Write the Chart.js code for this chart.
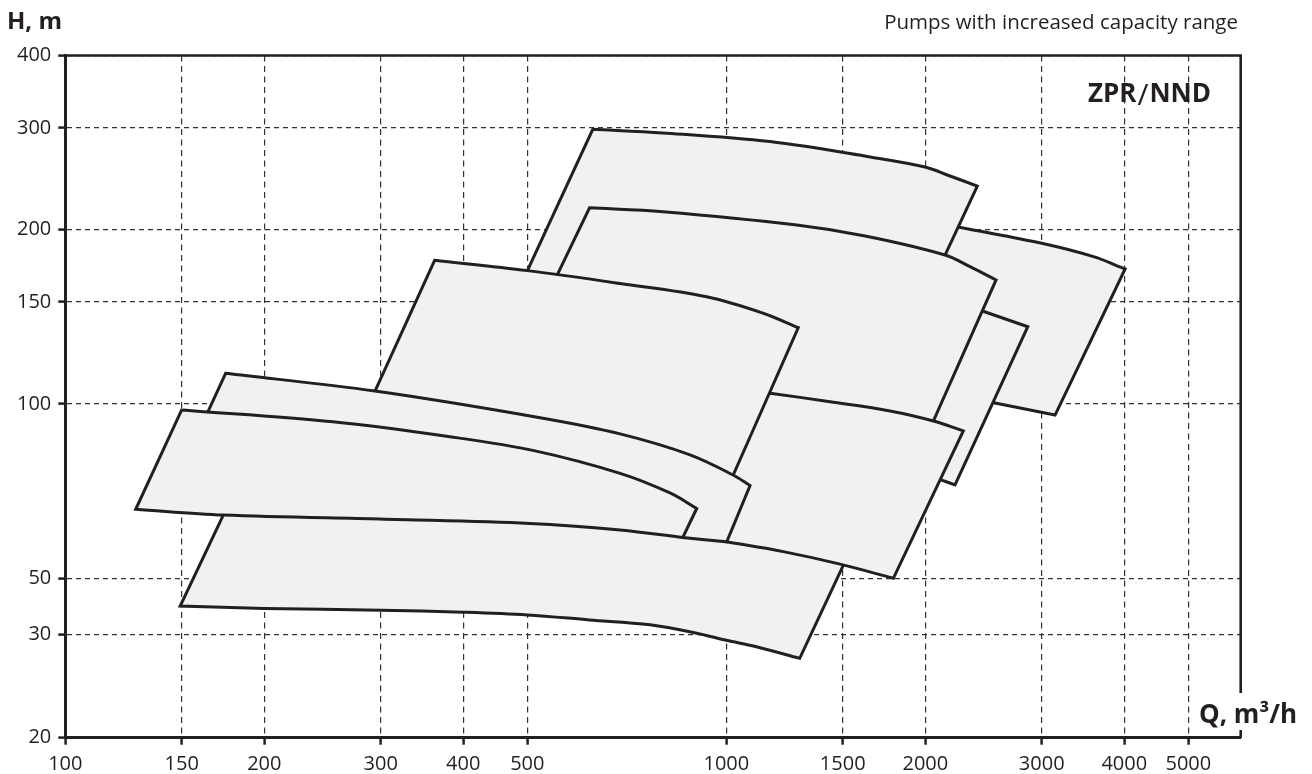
<!DOCTYPE html>
<html>
<head>
<meta charset="utf-8">
<title>ZPR/NND</title>
<script src="https://cdn.jsdelivr.net/npm/chart.js@4.4.1/dist/chart.umd.min.js"></script>
<style>
  html, body { margin: 0; padding: 0; background: #ffffff; }
  #box { position: relative; width: 1312px; height: 774px; }
</style>
</head>
<body>
<div id="box"><canvas id="chart" width="1312" height="774"></canvas></div>
<script>
// Axis ticks: flow Q (m³/h) and head H (m)
const flowTicks = [100, 150, 200, 300, 400, 500, 1000, 1500, 2000, 3000, 4000, 5000];
const headTicks = [20, 30, 50, 100, 150, 200, 300, 400];

// Outlines of the operating fields, flow/head pairs (each closes on its first point)
const field1Q = [1991, 477, 628, 802, 1164, 1650, 1998, 2180, 2397, 1991];
const field1H = [151.2, 151.2, 298.3, 294.0, 284.0, 267.2, 256.7, 247.7, 238.0, 151.2];

const field2Q = [1105, 1124, 532, 621, 802, 1278, 1622, 2142, 2337, 2559, 1998, 1105];
const field2H = [97.7, 129.0, 151.2, 218.3, 214.9, 203.8, 195.1, 180.9, 172.7, 163.8, 86.7, 97.7];

const field3Q = [281, 362, 500, 691, 934, 1137, 1285, 986, 281];
const field3H = [93.9, 177.1, 170.0, 161.5, 153.2, 143.5, 135.5, 68.3, 93.9];

const field4Q = [157.1, 174.8, 294.1, 522.6, 690.7, 881.2, 1023.6, 1086.1, 1001.4, 859.1, 793.8, 157.1];
const field4H = [86.7, 113.0, 105.3, 94.7, 88.8, 81.7, 75.4, 72.3, 57.8, 58.8, 63.0, 86.7];

const field5Q = [299.3, 173.4, 127.8, 150.0, 254.1, 381.9, 513.6, 690.7, 821.9, 902.0, 859.1, 690.7, 504.7, 299.3];
const field5H = [63.3, 64.3, 65.8, 97.7, 93.2, 87.8, 83.0, 75.9, 70.2, 66.0, 58.8, 60.6, 62.2, 63.3];

const field6Q = [644.1, 180.7, 149.2, 200.0, 300.2, 399.6, 500.2, 620.4, 766.6, 912.4, 1000, 1106.4, 1291.3, 1495.5, 1541.0, 1124.4, 961.4, 644.1];
const field6H = [65.6, 71.0, 38.8, 38.0, 37.4, 36.7, 35.8, 34.2, 32.7, 30.1, 29.3, 28.6, 27.3, 52.0, 56.0, 58.7, 62.5, 65.6];

const field7Q = [961.4, 1086.1, 1164.3, 1435.3, 1768.9, 2056.6, 2283.1, 1789.4, 1486.2, 1219.6, 1001.4, 951.4, 961.4];
const field7H = [71.0, 105.3, 104.4, 100.9, 97.3, 93.5, 89.9, 50.0, 52.9, 55.6, 57.8, 61.1, 71.0];

const field8Q = [2105, 2069, 2252, 3000, 3592, 4011, 3143, 2550, 2378, 2105];
const field8H = [151.2, 206.3, 202.0, 189.5, 179.7, 171.1, 95.7, 100.4, 103.7, 151.2];

const field9Q = [2033, 2337, 2434, 2858, 2218, 2118, 1998, 2033];
const field9H = [105.7, 147.7, 144.9, 136.0, 72.5, 73.9, 76.9, 105.7];

// Which points of each outline lie on a curved characteristic (the rest are corners),
// and the stacking of the fields (0 is drawn on top)
const fields = [
  { q: field1Q, h: field1H, curve: [3, 4, 5, 6, 7], order: 7 },
  { q: field2Q, h: field2H, curve: [4, 5, 6, 7, 8], order: 5 },
  { q: field3Q, h: field3H, curve: [2, 3, 4, 5], order: 2 },
  { q: field4Q, h: field4H, curve: [2, 3, 4, 5, 6], order: 1 },
  { q: field5Q, h: field5H, curve: [0, 1, 4, 5, 6, 7, 8, 11, 12, 13], order: 0 },
  { q: field6Q, h: field6H, curve: [3, 4, 5, 6, 7, 8, 9, 10, 11], order: 4 },
  { q: field7Q, h: field7H, curve: [2, 3, 4, 5, 8, 9], order: 3 },
  { q: field8Q, h: field8H, curve: [2, 3, 4], order: 8 },
  { q: field9Q, h: field9H, curve: [], order: 6 }
];

// Corners are entered twice so the spline keeps them sharp
function outline(f) {
  const pts = [];
  f.q.forEach((q, i) => {
    pts.push({ x: q, y: f.h[i] });
    if (!f.curve.includes(i)) pts.push({ x: q, y: f.h[i] });
  });
  return pts;
}

// Head axis: logarithmic above 50 m, with shortened steps 20-30-50 m below
const headBreaks = [20, 30, 50, 400];
const headShare = [0, 0.15157, 0.23366, 1];

class SegmentedLogScale extends Chart.Scale {
  determineDataLimits() {
    this.min = headBreaks[0];
    this.max = headBreaks[headBreaks.length - 1];
  }
  buildTicks() {
    return headTicks.map(v => ({ value: v }));
  }
  getLabelForValue(v) {
    return String(v);
  }
  toDecimal(v) {
    let i = 0;
    while (i < headBreaks.length - 2 && v > headBreaks[i + 1]) i++;
    const t = Math.log(v / headBreaks[i]) / Math.log(headBreaks[i + 1] / headBreaks[i]);
    return headShare[i] + t * (headShare[i + 1] - headShare[i]);
  }
  getPixelForValue(v) {
    return this.getPixelForDecimal(this.toDecimal(v));
  }
  getValueForPixel(p) {
    const d = this.getDecimalForPixel(p);
    let i = 0;
    while (i < headShare.length - 2 && d > headShare[i + 1]) i++;
    const t = (d - headShare[i]) / (headShare[i + 1] - headShare[i]);
    return headBreaks[i] * Math.pow(headBreaks[i + 1] / headBreaks[i], t);
  }
}
SegmentedLogScale.id = 'segmentedLog';
SegmentedLogScale.defaults = {};
Chart.register(SegmentedLogScale);

const ink = '#231f20';
const fieldFill = '#f1f1f1';
const family = '"Open Sans", "Noto Sans", "DejaVu Sans", sans-serif';

// Frame, headings and axis names
const captions = {
  id: 'captions',
  afterDraw(chart) {
    const { ctx, chartArea: a } = chart;
    ctx.save();
    ctx.strokeStyle = ink;
    ctx.lineWidth = 2.6;
    ctx.beginPath();
    ctx.moveTo(a.left - 1.5, a.top);
    ctx.lineTo(a.right, a.top);
    ctx.lineTo(a.right, a.bottom);
    ctx.stroke();

    ctx.fillStyle = ink;
    ctx.textBaseline = 'alphabetic';

    ctx.font = 'bold 24px ' + family;
    ctx.textAlign = 'left';
    ctx.fillText('H, m', 7, 29);

    ctx.font = '20.5px ' + family;
    ctx.textAlign = 'right';
    ctx.fillText('Pumps with increased capacity range', 1238, 29);

    // series name with a thin slash between the two type codes
    ctx.font = 'bold 26px ' + family;
    ctx.textAlign = 'right';
    ctx.fillText('NND', 1211, 102);
    let x = 1211 - ctx.measureText('NND').width - 1;
    ctx.font = '30px ' + family;
    ctx.fillText('/', x, 105);
    x -= ctx.measureText('/').width + 1;
    ctx.font = 'bold 26px ' + family;
    ctx.fillText('ZPR', x, 102);

    ctx.fillStyle = '#ffffff';
    ctx.fillRect(1195, 693, 115, 37);
    ctx.fillStyle = ink;
    ctx.font = 'bold 26px ' + family;
    ctx.textAlign = 'left';
    ctx.fillText('Q, m\u00b3/h', 1199, 723);
    ctx.restore();
  }
};

new Chart(document.getElementById('chart'), {
  type: 'scatter',
  data: {
    datasets: fields.map(f => ({
      data: outline(f),
      order: f.order,
      showLine: true,
      fill: 'shape',
      backgroundColor: fieldFill,
      borderColor: ink,
      borderWidth: 3,
      borderJoinStyle: 'miter',
      tension: 0.35,
      pointRadius: 0,
      pointHoverRadius: 0,
      pointHitRadius: 0
    }))
  },
  options: {
    responsive: false,
    devicePixelRatio: 1,
    animation: false,
    events: [],
    layout: { padding: { left: 0, top: 55.5, right: 71.3, bottom: 0 } },
    plugins: {
      legend: { display: false },
      tooltip: { enabled: false }
    },
    scales: {
      x: {
        type: 'logarithmic',
        position: 'bottom',
        min: 100,
        max: 6000,
        bounds: 'data',
        afterBuildTicks: s => { s.ticks = flowTicks.map(v => ({ value: v })); },
        afterFit: s => { s.height = 36.3; },
        ticks: {
          autoSkip: false,
          maxRotation: 0,
          minRotation: 0,
          padding: 8,
          color: ink,
          font: { family: family, size: 20 },
          callback: v => String(v)
        },
        grid: {
          color: '#333333',
          lineWidth: 1.2,
          drawTicks: true,
          tickLength: 7,
          tickWidth: 2.5,
          tickColor: ink
        },
        border: { display: true, color: ink, width: 3, dash: [6, 4.5] }
      },
      y: {
        type: 'segmentedLog',
        position: 'left',
        afterFit: s => { s.width = 65.3; },
        ticks: {
          autoSkip: false,
          padding: 7,
          color: ink,
          font: { family: family, size: 20 }
        },
        grid: {
          color: '#333333',
          lineWidth: 1.2,
          drawTicks: true,
          tickLength: 7,
          tickWidth: 2.5,
          tickColor: ink
        },
        border: { display: true, color: ink, width: 3, dash: [5, 4] }
      }
    }
  },
  plugins: [captions]
});
</script>
</body>
</html>
